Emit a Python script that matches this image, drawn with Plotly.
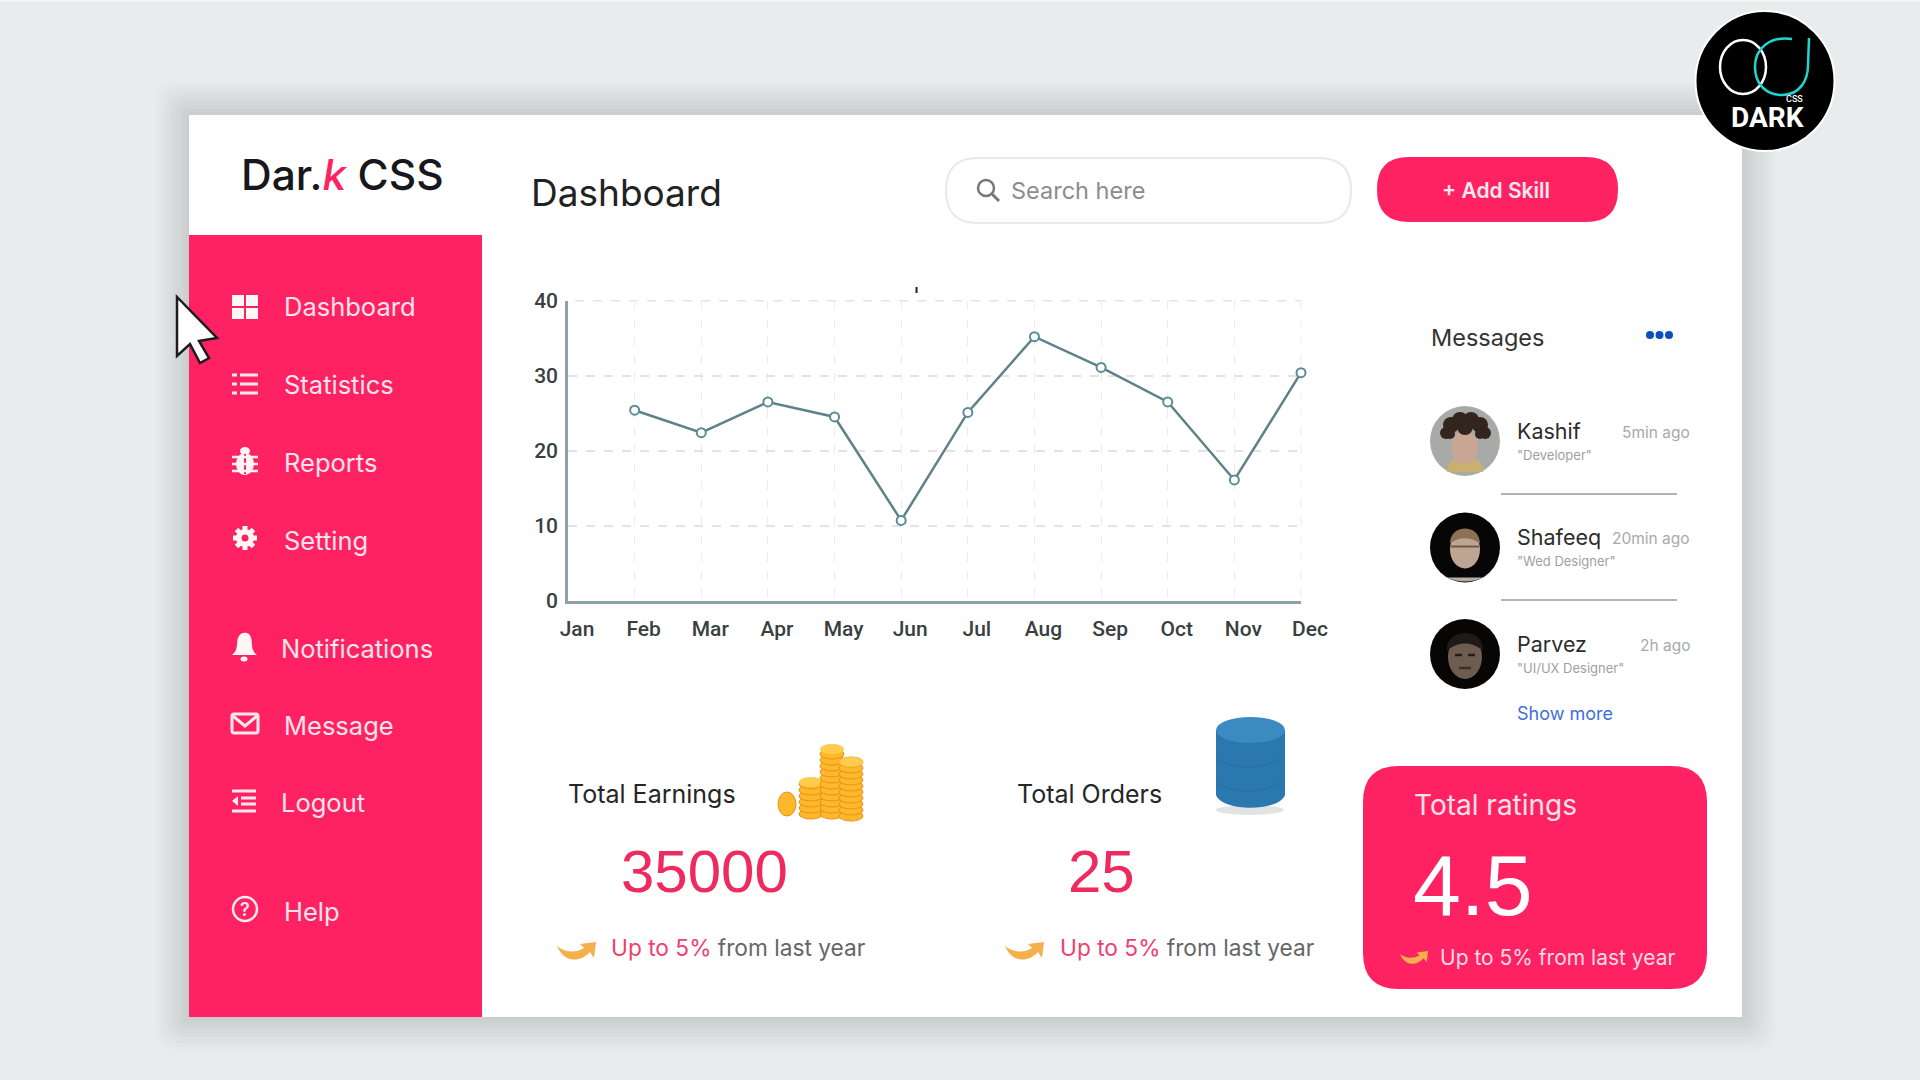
import math
import plotly.graph_objects as go

W, H = 1920, 1080

##___Data___
months = ["Jan", "Feb", "Mar", "Apr", "May", "Jun", "Jul", "Aug", "Sep", "Oct", "Nov", "Dec"]
values = [None, 25.4, 22.4, 26.5, 24.5, 10.7, 25.1, 35.2, 31.1, 26.5, 16.1, 30.4]
y_ticks = [0, 10, 20, 30, 40]

menu_items = ["Dashboard", "Statistics", "Reports", "Setting", "Notifications", "Message", "Logout", "Help"]
menu_x = [284, 284, 284, 284, 281, 284, 281, 284]
menu_y = [307, 385, 462, 540, 648, 725, 802, 911]

msg_names = ["Kashif", "Shafeeq", "Parvez"]
msg_roles = ['"Developer"', '"Wed Designer"', '"UI/UX Designer"']
msg_times = ["5min ago", "20min ago", "2h ago"]
msg_y = [441, 547.5, 654]

PINK = "#fe2262"
TEXT_FONT = "Inter"
LINE_COL = "#5f8289"
AXIS_COL = "#8da2a7"

shapes = []
annots = []


def X(x):
    return x / W


def Y(y):
    return 1 - y / H


def rect(x0, y0, x1, y1, fill, opacity=1):
    shapes.append(dict(type="rect", xref="paper", yref="paper", x0=X(x0), x1=X(x1), y0=Y(y0), y1=Y(y1),
                       fillcolor=fill, opacity=opacity, line=dict(width=0), layer="below"))


def ellipse(cx, cy, rx, ry, fill, line_col=None, line_w=0, opacity=1):
    shapes.append(dict(type="circle", xref="paper", yref="paper", x0=X(cx - rx), x1=X(cx + rx), y0=Y(cy - ry), y1=Y(cy + ry),
                       fillcolor=fill, opacity=opacity, line=dict(color=line_col or "rgba(0,0,0,0)", width=line_w), layer="below"))


def path(cmds, fill=None, line_col=None, line_w=0, opacity=1, dash=None):
    # cmds are tuples like ("M", x, y), coordinates in screen pixels
    parts = []
    for c in cmds:
        if len(c) == 1:
            parts.append(c[0])
        else:
            nums = []
            for i, v in enumerate(c[1:]):
                nums.append(f"{X(v):.5f}" if i % 2 == 0 else f"{Y(v):.5f}")
            parts.append(c[0] + " " + ",".join(nums))
    shapes.append(dict(type="path", xref="paper", yref="paper", path=" ".join(parts),
                       fillcolor=fill or "rgba(0,0,0,0)", opacity=opacity,
                       line=dict(color=line_col or "rgba(0,0,0,0)", width=line_w, dash=dash or "solid"), layer="below"))


def round_rect(x0, y0, x1, y1, r, fill, line_col=None, line_w=0):
    path([("M", x0 + r, y0), ("L", x1 - r, y0), ("Q", x1, y0, x1, y0 + r), ("L", x1, y1 - r),
          ("Q", x1, y1, x1 - r, y1), ("L", x0 + r, y1), ("Q", x0, y1, x0, y1 - r), ("L", x0, y0 + r),
          ("Q", x0, y0, x0 + r, y0), ("Z",)], fill, line_col, line_w)


def seg(x0, y0, x1, y1, col, w, dash=None):
    path([("M", x0, y0), ("L", x1, y1)], None, col, w, dash=dash)


def txt(x, y, s, size, col="#222222", anchor="left", family=TEXT_FONT, weight=400):
    annots.append(dict(xref="paper", yref="paper", x=X(x), y=Y(y), text=s, showarrow=False, xanchor=anchor, yanchor="middle",
                       font=dict(family=family, size=size, color=col, weight=weight), borderpad=0, borderwidth=0))


def orange_arrow(x, y, s=1.0):
    # x, y is the top-left corner of the small curved arrow
    p = lambda a, b: (x + a * s, y + b * s)
    path([("M", *p(0, 4)), ("C", *p(9, 11), *p(19, 11), *p(27, 6)), ("L", *p(23, 2)), ("L", *p(39, 0)),
          ("L", *p(37, 16)), ("L", *p(33, 10)), ("C", *p(23, 21), *p(7, 21), *p(0, 4)), ("Z",)], "#f5b04c")


##___Page and card___
for i in range(10):
    grow = 3 + i * 3.4
    round_rect(189 - grow, 115 - grow, 1742 + grow, 1017 + grow, min(grow, 24), "rgba(0,0,0,0.0125)")
rect(189, 115, 1742, 1017, "#ffffff")
rect(189, 235, 482, 1017, PINK)
rect(0, 0, W, 2, "#f4f5f5")

txt(241, 175, f'Dar.<span style="color:{PINK}"><i>k</i></span> CSS', 42.5, "#17171c", weight=500)
txt(531, 192, "Dashboard", 37, "#222222")

round_rect(946, 158, 1351, 223, 32, "#ffffff", "#e9e9e9", 2)
ellipse(986, 188, 8, 8, None, "#777777", 2.5)
seg(992, 194, 999, 201, "#777777", 3)
txt(1011, 190, "Search here", 23.5, "#8c8c8c")
round_rect(1377, 157, 1618, 222, 32, PINK)
txt(1496, 191, "+ Add Skill", 21, "#f9e6ee", "center", weight=600)

##___Sidebar___
for i, item in enumerate(menu_items):
    txt(menu_x[i], menu_y[i], item, 25.5, "#fbe3ec")

# dashboard icon
for x0, x1 in [(232, 244), (246, 258)]:
    for y0, y1 in [(295, 306), (308, 319)]:
        rect(x0, y0, x1, y1, "#fff6f8")
# statistics icon
for y in [375, 384, 393]:
    seg(240, y, 258, y, "#fde8ee", 3)
    seg(232, y, 237, y, "#fde8ee", 3)
# reports icon (bug)
ellipse(245, 464, 9, 11, "#fff2f5")
ellipse(245, 451, 5, 4, "#fff2f5")
seg(245, 454, 245, 474, PINK, 2)
for dy in [-7, 0, 7]:
    seg(232, 464 + dy, 258, 464 + dy, "#fff2f5", 2.5)
# setting icon (gear)
for k in range(8):
    a = k * math.pi / 4
    seg(245 + 7 * math.cos(a), 538 + 7 * math.sin(a), 245 + 12 * math.cos(a), 538 + 12 * math.sin(a), "#fff6f8", 5)
ellipse(245, 538, 9, 9, "#fff6f8")
ellipse(245, 538, 3.5, 3.5, PINK)
# notifications icon
path([("M", 232, 655), ("C", 239, 650, 236, 642, 238, 638), ("C", 240, 631, 250, 631, 251, 638),
      ("C", 253, 642, 250, 650, 257, 655), ("Z",)], "#fff6f8")
ellipse(244, 659, 3.5, 2.5, "#fff6f8")
# message icon
round_rect(232, 714, 258, 733, 2, None, "#fde8ee", 3)
path([("M", 233, 716), ("L", 245, 726), ("L", 257, 716)], None, "#fde8ee", 3)
# logout icon
seg(232, 791, 256, 791, "#fde8ee", 3)
seg(232, 811, 256, 811, "#fde8ee", 3)
seg(241, 798, 256, 798, "#fde8ee", 3)
seg(241, 804, 256, 804, "#fde8ee", 3)
path([("M", 238, 796), ("L", 232, 801), ("L", 238, 806), ("Z",)], "#fde8ee")
# help icon
ellipse(245, 909, 12, 12, None, "#fde8ee", 2.5)
txt(245, 909, "?", 18, "#fde8ee", "center", weight=600)

# mouse cursor
path([("M", 177, 297), ("L", 177, 356), ("L", 190, 344), ("L", 200, 363), ("L", 209, 358), ("L", 199, 341), ("L", 217, 338), ("Z",)],
     "#ffffff", "#1c1c1c", 2.5)

##___Chart extras___
rect(915.5, 287, 917.5, 293, "#222222")
seg(575, 300.7, 1301, 300.7, "#e3e3e3", 1.5, "dash")
seg(1301, 300.7, 1301, 600, "#ececec", 1, "dash")

##___Messages___
txt(1431, 337, "Messages", 23.5, "#333333")
for x in [1650, 1659.5, 1669]:
    ellipse(x, 335, 4, 4, "#0b4fbf")

for i, name in enumerate(msg_names):
    txt(1517, msg_y[i] - 10.5, name, 21.5, "#2c2c2c")
    txt(1517, msg_y[i] + 13.5, msg_roles[i], 13, "#a0a0a0")
    txt(1690, msg_y[i] - 9, msg_times[i], 15.5, "#a9a9a9", "right")
for y in [494, 600]:
    seg(1501, y, 1677, y, "#b3b3b3", 2)
txt(1517, 713, "Show more", 18, "#3f6fdc")

# avatars
cx, cy = 1465, msg_y[0]
ellipse(cx, cy, 35, 35, "#a8aaa8")
path([("M", cx - 18, cy + 31), ("L", cx + 18, cy + 31), ("Q", cx + 18, cy + 20, cx + 8, cy + 18),
      ("L", cx - 8, cy + 18), ("Q", cx - 18, cy + 20, cx - 18, cy + 31), ("Z",)], "#c9b06e")
ellipse(cx, cy + 7, 13, 17, "#c9a594")
for hx, hy, hr in [(-19, -8, 6), (-14, -16, 8), (-5, -21, 8), (6, -21, 8), (15, -16, 8), (20, -8, 6), (-15, -7, 5), (15, -7, 5), (0, -14, 8)]:
    ellipse(cx + hx, cy + hy, hr, hr, "#33241d")

cx, cy = 1465, msg_y[1]
ellipse(cx, cy, 35, 35, "#060606")
path([("M", cx - 19, cy + 30), ("L", cx + 19, cy + 30), ("Q", cx, cy + 38, cx - 19, cy + 30), ("Z",)], "#b9aca0")
ellipse(cx, cy + 2, 15, 19, "#bda592")
path([("M", cx - 15, cy - 4), ("C", cx - 15, cy - 24, cx + 15, cy - 24, cx + 15, cy - 4), ("C", cx + 6, cy - 11, cx - 6, cy - 11, cx - 15, cy - 4), ("Z",)], "#8d7153")
seg(cx - 14, cy - 1, cx + 14, cy - 1, "#6d5a4c", 2)

cx, cy = 1465, msg_y[2]
ellipse(cx, cy, 35, 35, "#070605")
ellipse(cx, cy + 3, 17, 22, "#6f5c50")
path([("M", cx - 18, cy - 3), ("C", cx - 20, cy - 27, cx + 20, cy - 27, cx + 18, cy - 3), ("C", cx + 8, cy - 13, cx - 8, cy - 13, cx - 18, cy - 3), ("Z",)], "#1f1a18")
seg(cx - 10, cy + 1, cx - 3, cy + 1, "#241c18", 2.5)
seg(cx + 3, cy + 1, cx + 10, cy + 1, "#241c18", 2.5)
seg(cx - 6, cy + 14, cx + 6, cy + 14, "#3d2e28", 2.5)

##___Bottom cards___
txt(568, 794, "Total Earnings", 25, "#262626")
txt(1017, 794, "Total Orders", 25, "#262626")
txt(704, 871, "35000", 60, "#ee2a5f", "center", "Liberation Sans")
txt(1101, 871, "25", 60, "#ee2a5f", "center", "Liberation Sans")
for ax, tx in [(557, 611), (1005, 1060)]:
    orange_arrow(ax, 942)
    txt(tx, 947, f'<span style="color:#ef3f6f">Up to 5%</span> from last year', 22.7, "#666666")

# coins
for sx, top, bottom in [(811, 782, 814), (832, 749, 814), (851, 762, 816)]:
    y = bottom
    while y >= top:
        ellipse(sx, y, 12, 5, "#fdb92e", "#f08f12", 1)
        y -= 6
    ellipse(sx, top, 12, 5, "#ffcd4d")
ellipse(787, 804, 9, 12, "#fdb92e", "#f08f12", 1)

# database cylinder
ellipse(1250, 810, 34, 5, "#d5d8d9", opacity=0.7)
path([("M", 1216, 730), ("L", 1216, 795), ("C", 1222, 812, 1279, 812, 1285, 795), ("L", 1285, 730), ("Z",)], "#2a78af")
ellipse(1250.5, 730, 34.5, 13, "#3b8bc2")
for y in [762, 786]:
    path([("M", 1216, y - 5), ("C", 1230, y + 9, 1270, y + 9, 1285, y - 9)], None, "#256ea3", 1)

# ratings card
round_rect(1363, 766, 1707, 989, 36, PINK)
txt(1414, 805, "Total ratings", 28, "#fbe0e9")
txt(1413, 885, "4.5", 86, "#ffffff", family="Liberation Sans")
orange_arrow(1400, 951, 0.72)
txt(1440, 957, "Up to 5% from last year", 21, "#fbdbe6")

##___Channel badge___
ellipse(1765, 81, 69.5, 70, "#000000", "#ffffff", 2)
ellipse(1743, 67, 23, 27, None, "#ffffff", 2.5)
path([("M", 1792, 39), ("C", 1770, 36, 1755, 48, 1755, 67), ("C", 1755, 85, 1767, 95, 1782, 95),
      ("C", 1800, 95, 1808, 80, 1808, 65), ("L", 1809, 38)], None, "#1fd6d0", 2.5)
txt(1794, 99, "CSS", 9, "#ffffff", "center", "Roboto", 500)
txt(1767, 117, "DARK", 28, "#ffffff", "center", "Roboto", 700)

##___Plotting___
fig = go.Figure()
fig.add_trace(go.Scatter(
    x=months,
    y=values,
    mode="lines+markers",
    line=dict(color=LINE_COL, width=2.5),
    marker=dict(size=9, color="#ffffff", line=dict(color="#5b8c97", width=2)),
    cliponaxis=False,
    showlegend=False,
    connectgaps=False,
))

fig.update_layout(
    width=W,
    height=H,
    margin=dict(l=0, r=0, t=0, b=0),
    paper_bgcolor="#e8ecec",
    plot_bgcolor="rgba(0,0,0,0)",
    shapes=shapes,
    annotations=annots,
    showlegend=False,
    xaxis=dict(
        domain=[568 / W, 1301 / W],
        automargin=False,
        type="category",
        categoryorder="array",
        categoryarray=months,
        range=[0, 11],
        showline=True,
        linecolor=AXIS_COL,
        linewidth=3,
        showgrid=True,
        gridcolor="#ececec",
        griddash="dash",
        gridwidth=1,
        zeroline=False,
        ticks="",
        ticklabelstandoff=7,
        ticklabelshift=9,
        tickangle=0,
        tickfont=dict(family="Roboto", size=21, color="#3a3f41", weight=500),
    ),
    yaxis=dict(
        domain=[1 - 600.7 / H, 1 - 300.7 / H],
        automargin=False,
        range=[0, 40],
        tickmode="array",
        tickvals=y_ticks,
        ticktext=[str(v) for v in y_ticks],
        showline=True,
        linecolor=AXIS_COL,
        linewidth=2.5,
        showgrid=True,
        gridcolor="#e3e3e3",
        griddash="dash",
        gridwidth=1.5,
        zeroline=False,
        ticks="",
        ticklabelstandoff=3,
        tickfont=dict(family="Roboto", size=21, color="#3a3f41", weight=500),
    ),
)

fig.write_html("out.html", post_script="document.body.style.margin='0';", config=dict(displayModeBar=False))
